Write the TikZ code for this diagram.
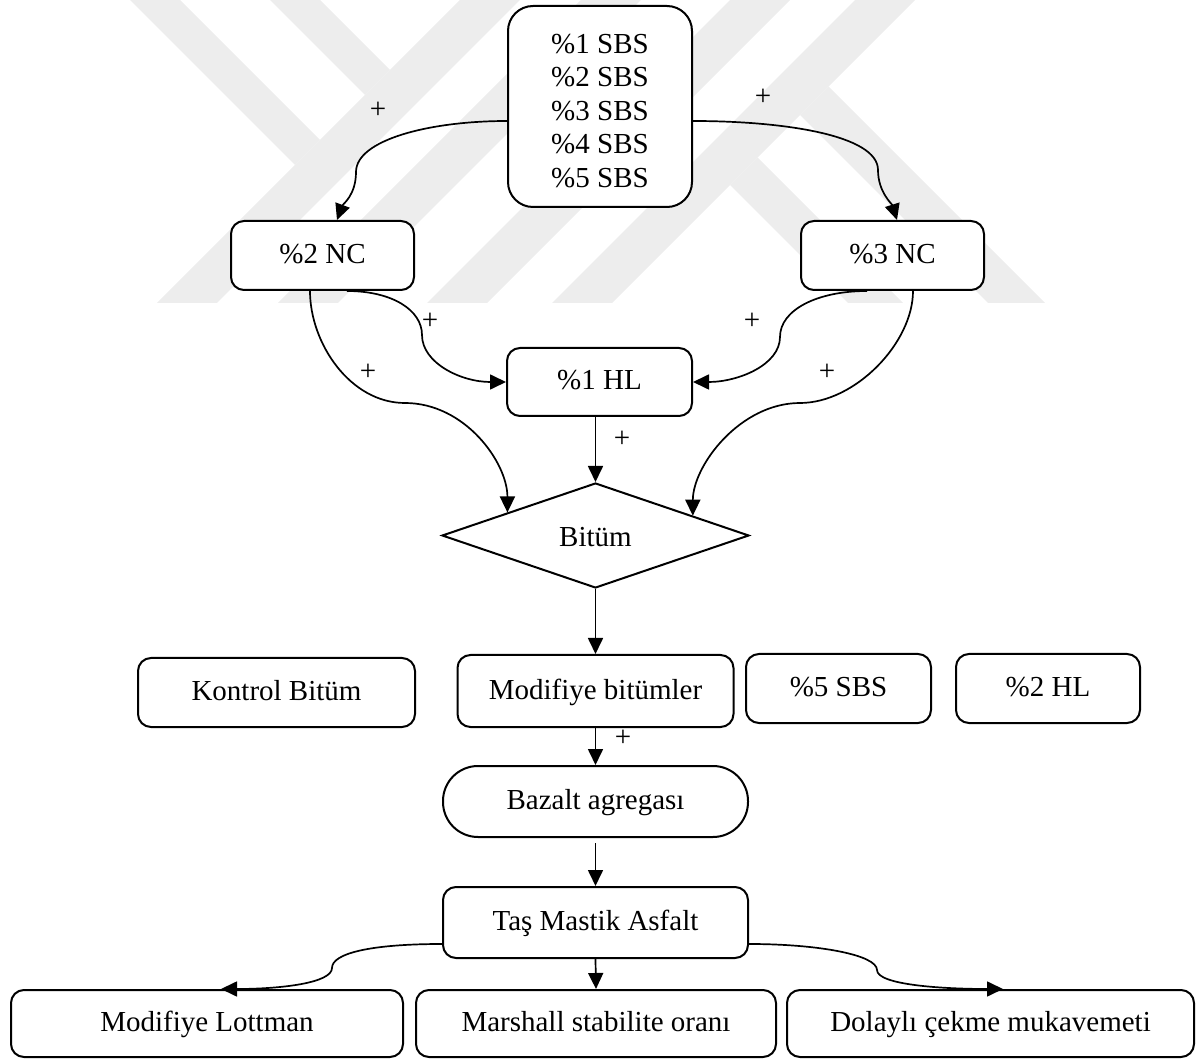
\documentclass[tikz,border=0pt]{standalone}
\usepackage{fontspec}
\setmainfont{Liberation Serif}
\usetikzlibrary{arrows.meta,shapes.geometric,calc}
\newcommand{\fs}{\fontsize{14.5pt}{16.75pt}\selectfont}
\begin{document}
\begin{tikzpicture}[x=0.5pt,y=-0.5pt,
  box/.style={draw, line width=1pt, fill=white, rounded corners=6.5pt, inner sep=0pt, font=\fs},
  one/.style={text height=0.96em, text depth=0.16em},
  arr/.style={line width=0.85pt, -{Triangle[length=8pt,width=7.5pt]}},
  plus/.style={font=\fs, inner sep=0pt},
  wm/.style={fill=black!7, draw=none}]
\useasboundingbox (0,0) rectangle (1196,1059);
% watermark
\fill[wm] (130,0) -- (180,0) -- (320,140) -- (295,165) -- cycle;
\fill[wm] (270,0) -- (320,0) -- (390,70) -- (365,95) -- cycle;
\fill[wm] (460,0) -- (520,0) -- (217,303) -- (157,303) -- cycle;
\fill[wm] (581,0) -- (641,0) -- (338,303) -- (278,303) -- cycle;
\fill[wm] (730,0) -- (790,0) -- (487,303) -- (427,303) -- cycle;
\fill[wm] (855,0) -- (915,0) -- (612,303) -- (552,303) -- cycle;
\fill[wm] (730,185) -- (757.5,157.5) -- (903,303) -- (848,303) -- cycle;
\fill[wm] (800,115) -- (828.5,86.5) -- (1045,303) -- (988,303) -- cycle;
% nodes
\node[box, rounded corners=12.5pt, minimum width=92pt, minimum height=100.5pt, align=center] (sbs) at (600,106.5) {\rule{0pt}{14pt}\%1 SBS\\\%2 SBS\\\%3 SBS\\\%4 SBS\\\%5 SBS};
\node[box, one, minimum width=91.5pt, minimum height=34.5pt] (nc2) at (322.5,255.5) {\%2 NC};
\node[box, one, minimum width=91.5pt, minimum height=34.5pt] (nc3) at (892.5,255.5) {\%3 NC};
\node[box, one, minimum width=92.5pt, minimum height=34pt] (hl1) at (599.5,382) {\%1 HL};
\node[draw, line width=1pt, fill=white, shape=diamond, minimum width=153.5pt, minimum height=52.5pt, inner sep=0pt, font=\fs, text height=1.24em, text depth=0.16em] (bitum) at (595.5,535.5) {Bitüm};
\node[box, one, minimum width=138.5pt, minimum height=34.5pt] (kontrol) at (276.5,692.5) {Kontrol Bitüm};
\node[box, one, minimum width=138pt, minimum height=36pt] (mod) at (595.5,691) {Modifiye bitümler};
\node[box, one, minimum width=92.5pt, minimum height=34.5pt] (sbs5) at (838.5,688.5) {\%5 SBS};
\node[box, one, minimum width=92pt, minimum height=34.5pt] (hl2) at (1048,688.5) {\%2 HL};
\node[box, one, rounded corners=17.5pt, minimum width=152.5pt, minimum height=35.5pt] (bazalt) at (595.5,801.5) {Bazalt agregası};
\node[box, one, minimum width=152.5pt, minimum height=35.5pt] (tas) at (595.5,922.5) {Taş Mastik Asfalt};
\node[box, one, minimum width=196pt, minimum height=33.5pt] (lott) at (207,1023.5) {Modifiye Lottman};
\node[box, one, minimum width=180pt, minimum height=33.5pt] (marsh) at (596,1023.5) {Marshall stabilite oranı};
\node[box, one, minimum width=203.5pt, minimum height=33.5pt] (dol) at (990.5,1023.5) {Dolaylı çekme mukavemeti};
% labels
\node[plus] (p1) at (378,110) {+};
\node[plus] (p2) at (763,97) {+};
\node[plus] (p3) at (430,321) {+};
\node[plus] (p4) at (368,372) {+};
\node[plus] (p5) at (752,321) {+};
\node[plus] (p6) at (827,372) {+};
\node[plus] (p7) at (622,439) {+};
\node[plus] (p8) at (623,738) {+};
% connectors
\draw[arr] ($(sbs.west)+(0,14.5)$) .. controls +(-78,0) and +(0,-32) .. (356,172) .. controls +(0,23) and +(6,-16) .. ($(nc2.north)+(14.5,0)$);
\draw[arr] ($(sbs.east)+(0,14.5)$) .. controls +(90,0) and +(0,-35) .. (878,170) .. controls +(0,22) and +(-5,-16) .. ($(nc3.north)+(4.5,0)$);
\draw[arr] ($(nc2.south)+(24.5,0)$) .. controls +(45,0) and +(0,-25) .. (422,335) .. controls +(0,28) and +(-45,0) .. (hl1.west);
\draw[arr] ($(nc3.south)+(-25.5,0)$) .. controls +(-50,0) and +(0,-27) .. (780,337) .. controls +(0,28) and +(45,0) .. (hl1.east);
\draw[arr] ($(nc2.south)+(-12.5,0)$) .. controls +(0,52) and +(-55,0) .. (405,403) .. controls +(60,0) and +(0,-50) .. ($(bitum.west)!0.43!(bitum.north)$);
\draw[arr] ($(nc3.south)+(20.5,0)$) .. controls +(0,52) and +(55,0) .. (800,403) .. controls +(-60,0) and +(0,-50) .. ($(bitum.east)!0.37!(bitum.north)$);
\draw[arr] (bitum.north |- hl1.south) -- (bitum.north);
\draw[arr] (bitum.south) -- (mod.north);
\draw[arr] (mod.south) -- (bazalt.north);
\draw[arr, shorten <=2.5pt] (bazalt.south) -- (tas.north);
\draw[arr] (tas.south) -- (marsh.north);
\draw[arr] ($(tas.west)+(0,21.5)$) .. controls +(-70,0) and +(0,-15) .. (332,968) .. controls +(0,15) and +(60,0) .. ($(lott.north)+(14,0)$);
\draw[arr] ($(tas.east)+(0,21.5)$) .. controls +(70,0) and +(0,-15) .. (877,970) .. controls +(0,15) and +(-60,0) .. ($(dol.north)+(12.5,0)$);
\end{tikzpicture}
\end{document}
